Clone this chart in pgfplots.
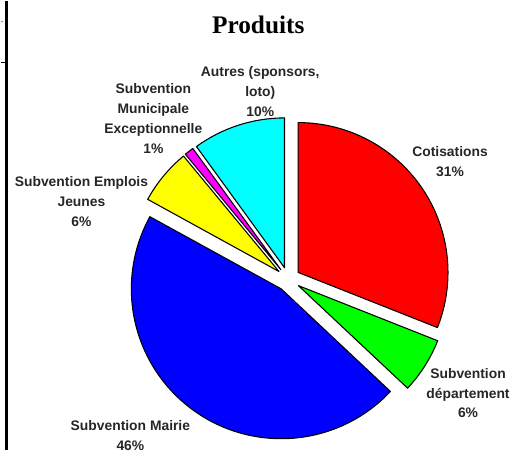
\documentclass[border=0pt]{standalone}
\usepackage{pgfplots}
\pgfplotsset{compat=1.18}
\usepackage{pgfplotstable}
\usepackage{fontspec}
\setmainfont{Liberation Sans}
\newfontfamily\titlefont{Liberation Serif}

\definecolor{pred}{RGB}{255,0,0}
\definecolor{pgreen}{RGB}{0,255,0}
\definecolor{pblue}{RGB}{0,0,255}
\definecolor{pyellow}{RGB}{255,255,0}
\definecolor{pmagenta}{RGB}{255,0,255}
\definecolor{pcyan}{RGB}{0,255,255}

% slice shares (percent), clockwise from 12 o'clock
\pgfplotstableread{
value col
31 pred
6 pgreen
46 pblue
6 pyellow
1 pmagenta
10 pcyan
}\slices

\tikzset{lbl/.style={align=center, inner sep=0pt, text=black!85,
  font=\bfseries\fontsize{10.4}{15}\selectfont}}

\begin{document}
\begin{tikzpicture}
\begin{axis}[
  scale only axis, width=382.5pt, height=336.75pt,
  xmin=0, xmax=510, ymin=0, ymax=449,
  hide axis, clip=false]
\path (rel axis cs:0,0) rectangle (rel axis cs:1,1);
\pgfplotsextra{
  \pgfplotstablegetrowsof{\slices}
  \pgfmathtruncatemacro\nrows{\pgfplotsretval-1}
  \gdef\acc{90}
  \foreach \i in {0,...,\nrows} {
    \pgfplotstablegetelem{\i}{value}\of\slices \let\v\pgfplotsretval
    \pgfplotstablegetelem{\i}{col}\of\slices \let\slicecol\pgfplotsretval
    \pgfmathsetmacro\a{\acc}
    \pgfmathsetmacro\b{\acc-3.6*\v}
    \pgfmathsetmacro\m{(\a+\b)/2}
    \pgfmathsetmacro\ox{288+12*cos(\m)}
    \pgfmathsetmacro\oy{171+12*sin(\m)}
    \pgfmathsetmacro\sx{\ox+150*cos(\a)}
    \pgfmathsetmacro\sy{\oy+150*sin(\a)}
    \filldraw[fill=\slicecol, draw=black, line width=0.8pt, line join=round]
      (axis cs:\ox,\oy) -- (axis cs:\sx,\sy)
      arc[start angle=\a, end angle=\b, radius=112.5pt] -- cycle;
    \xdef\acc{\b}
  }
}
% cell borders of the original page
\draw[line width=2.2pt] (axis cs:6.2,0) -- (axis cs:6.2,449);
\draw[line width=0.8pt] (axis cs:0,388) -- (axis cs:6,388);
\draw[black!40, line width=0.5pt] (axis cs:0,429) -- (axis cs:2,429);

\node[inner sep=0pt, font=\titlefont\bfseries\fontsize{19}{22}\selectfont] at (axis cs:258,426) {Produits};
\node[lbl] at (axis cs:260,359) {Autres (sponsors,\\loto)\\10\%};
\node[lbl] at (axis cs:153,332) {Subvention\\Municipale\\Exceptionnelle\\1\%};
\node[lbl] at (axis cs:81,249) {Subvention Emplois\\Jeunes\\6\%};
\node[lbl] at (axis cs:450,289) {Cotisations\\31\%};
\node[lbl] at (axis cs:468,57) {Subvention\\département\\6\%};
\node[lbl, overlay] at (axis cs:130,14) {Subvention Mairie\\46\%};
\end{axis}
\end{tikzpicture}
\end{document}
